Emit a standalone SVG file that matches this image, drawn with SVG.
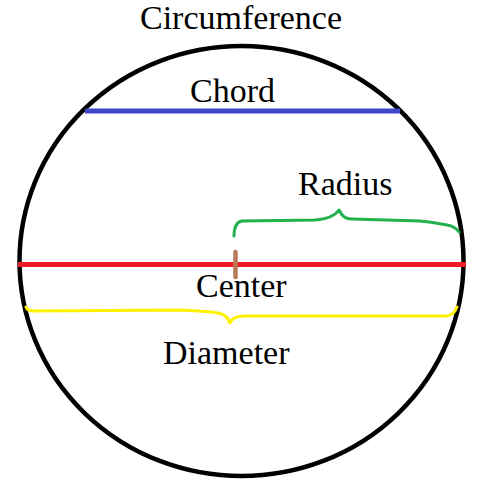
<svg xmlns="http://www.w3.org/2000/svg" width="487" height="492" viewBox="0 0 487 492">
<style>
text{font-family:"Liberation Serif","Times New Roman",serif;font-size:34px;fill:#000}
.br{fill:none;stroke-width:3;stroke-linecap:round;stroke-linejoin:round}
</style>
<rect width="487" height="492" fill="#fff"/>
<g id="circumference">
<ellipse cx="241.5" cy="261" rx="222" ry="215" fill="none" stroke="#000" stroke-width="4.5"/>
<text x="140" y="29">Circumference</text>
</g>
<g id="connectors">
<line id="chord-line" x1="85" y1="111" x2="400" y2="111" stroke="#3f48cc" stroke-width="5"/>
<line id="diameter-line" x1="18" y1="264.5" x2="466" y2="264.5" stroke="#ed1c24" stroke-width="5"/>
<path id="radius-brace" class="br" stroke="#22b14c" d="M234,236 C234,228 236,222 242,221 L315,220 C328,219 335,216 339,210 C342,216 345,219 352,219 L420,221 C432,222 440,224 447,225 C453,226 457,229 459,232"/>
<path id="diameter-brace" class="br" stroke="#fff200" d="M26,307 C27,310 29,311 34,311 L180,310 C205,311 220,312 224,315 C227,317 229,320 230,323 C232,318 236,316 244,316 L446,316 C452,316 455,312 457,307"/>
</g>
<g id="chord"><text x="190" y="102">Chord</text></g>
<g id="radius"><text x="298" y="195">Radius</text></g>
<g id="center">
<line x1="235.5" y1="252" x2="235.5" y2="277" stroke="#b97a57" stroke-width="4.5" stroke-linecap="round"/>
<text x="196" y="297">Center</text>
</g>
<g id="diameter"><text x="163" y="364">Diameter</text></g>
</svg>
